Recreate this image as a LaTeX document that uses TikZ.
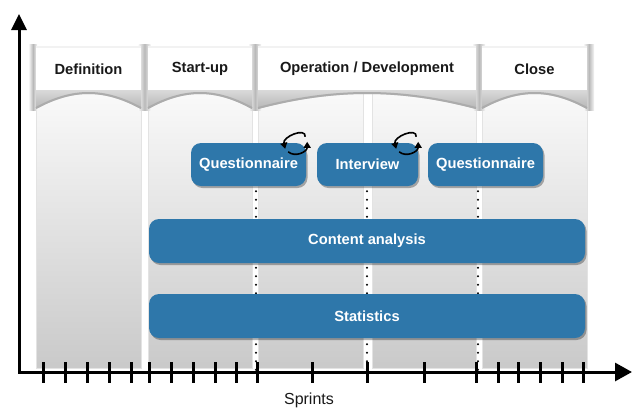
\documentclass[tikz,border=0pt]{standalone}
\usepackage{fontspec}
\setmainfont{Liberation Sans}
\usetikzlibrary{arrows.meta,shadows}
\definecolor{boxblue}{RGB}{46,119,170}
\definecolor{hdrtext}{RGB}{25,25,25}
\begin{document}
\begin{tikzpicture}[x=1pt,y=-1pt,
  box/.style={fill=boxblue, rounded corners=10pt, text=white,
    font=\fontsize{14.7}{17}\selectfont\bfseries, minimum height=43pt, inner sep=0pt,
    drop shadow={shadow xshift=1.5pt, shadow yshift=-2pt, opacity=0.3, fill=black}},
  hdr/.style={font=\fontsize{14.7}{17}\selectfont\bfseries, text=hdrtext, inner sep=0pt},
  body/.style={top color=gray!4, bottom color=gray!42, draw=gray!22, line width=0.4pt},
  dotline/.style={line width=2.4pt, dash pattern=on 0pt off 8.5pt, line cap=round, black},
  cyc/.style={line width=1.6pt, black, -{Triangle[length=6pt,width=7pt]}},
  axis/.style={line width=3pt, black},
]
\useasboundingbox (0,0) rectangle (638,408);
\fill[white] (0,0) rectangle (638,408);

% column bodies
\foreach \a/\b in {36/141,148/252,258/363,372/476,482/587}
  \shade[body] (\a,90) rectangle (\b,368);

% header side shadows
\foreach \c/\w in {33/8,144.5/12,255/12,479/12,589/10}
  \shade[left color=gray!8, right color=gray!8, middle color=gray!55]
    ({\c-\w/2},44) rectangle ({\c+\w/2},110);

% headers and waves
\foreach \a/\b in {36/141,148/252,258/476,482/587}{
  \pgfmathsetmacro\ca{\a+0.35*(\b-\a)}
  \pgfmathsetmacro\cb{\b-0.35*(\b-\a)}
  \fill[gray!10] (\a,46) rectangle (\b,48);
  \fill[white] (\a,48) rectangle (\b,90);
  \shade[top color=gray!28, bottom color=gray!58] (\a,90) -- (\b,90) -- (\b,109) .. controls (\cb,89) and (\ca,89) .. (\a,109) -- cycle;
  \draw[gray!65, line width=2pt] (\b,108) .. controls (\cb,88) and (\ca,88) .. (\a,108);
}

\node[hdr] (hdef) at (88.5,69) {Definition};
\node[hdr] (hstart) at (200,69) {Start-up};
\node[hdr] (hop) at (367,69) {Operation / Development};
\node[hdr] (hclose) at (534.5,69) {Close};

% axis coordinates
\coordinate (origin) at (19,372);
\coordinate (ytip) at (19,14);
\coordinate (xtip) at (632,372);
\coordinate (t1) at (256,370);
\coordinate (t2) at (367,370);
\coordinate (t3) at (478,370);

\node[box, minimum width=115pt] (q1) at (248.5,164.5) {Questionnaire};
\node[box, minimum width=101pt] (int) at (367.5,164.5) {Interview};
\node[box, minimum width=115pt] (q2) at (485.5,164.5) {Questionnaire};

% dotted lines (behind the long boxes)
\draw[dotline] ([yshift=-5pt]q1.south -| t1) -- (t1);
\draw[dotline] ([yshift=-5pt]int.south -| t2) -- (t2);
\draw[dotline] ([yshift=-5pt]q2.south -| t3) -- (t3);

\node[box, minimum width=436pt, minimum height=44pt] (ca) at (367,241) {Content analysis};
\node[box, minimum width=436pt, minimum height=44pt] (st) at (367,316) {Statistics};

% cycle arrows
\path ([xshift=-11pt]q1.north east) coordinate (c1);
\path ([xshift=-12pt]int.north east) coordinate (c2);
\foreach \c in {c1,c2}{
  \draw[cyc] (\c) ++(10,-6) .. controls +(1,-10) and +(-3,-12) .. ++(-20,12);
  \draw[cyc] (\c) ++(-7,9) .. controls +(7,6) and +(0,10) .. ++(19,-10);
}

% axes
\draw[axis, {Triangle[length=16pt,width=15pt]}-{Triangle[length=17pt,width=18pt]}] (ytip) -- (origin) -- (xtip);
\foreach \x in {43,65,87,109,131,149,171,193,215,236,257,312,367,424,476,498,518,540,562,583}
  \draw[line width=3pt] (\x,362) -- (\x,383);

\node[font=\fontsize{16}{18}\selectfont, text=hdrtext, inner sep=0pt] (sprints) at (309,400) {Sprints};
\end{tikzpicture}
\end{document}
